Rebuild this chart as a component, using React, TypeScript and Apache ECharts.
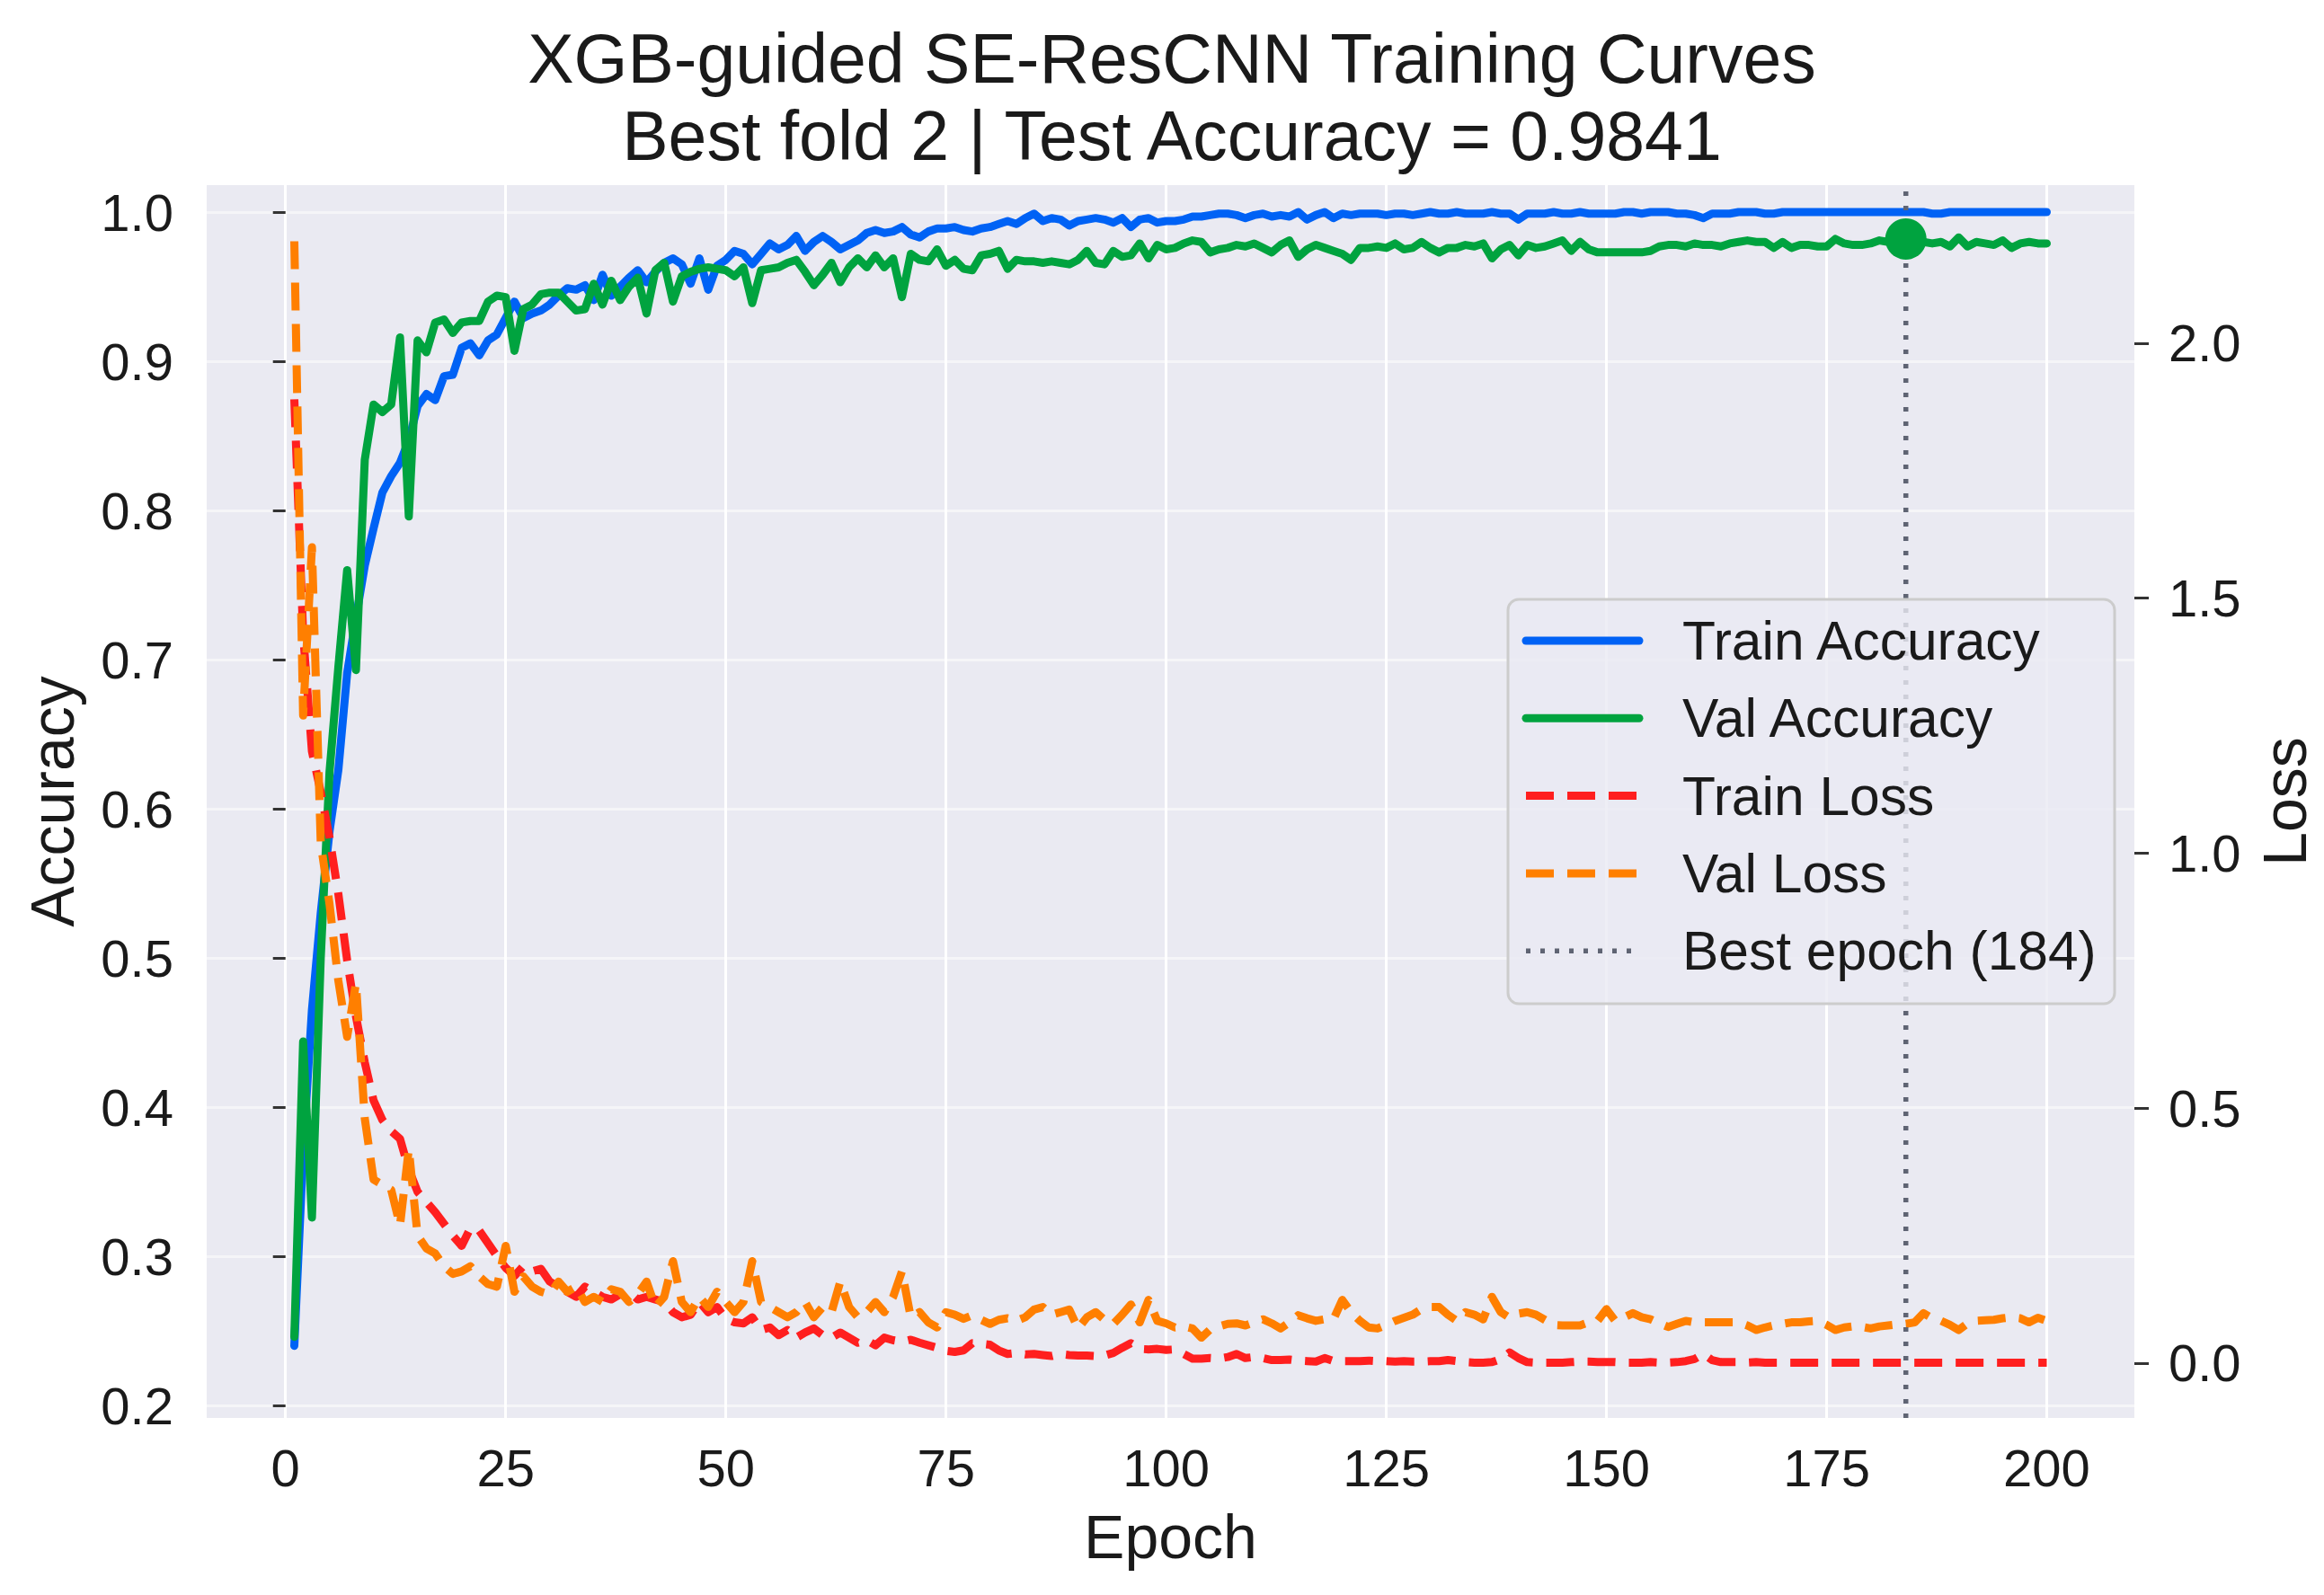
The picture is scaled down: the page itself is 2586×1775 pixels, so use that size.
import React, { useEffect, useRef } from 'react';
import * as echarts from 'echarts';

const FONT = '"Liberation Sans", Arial, Helvetica, sans-serif';

const trainAcc = [
  0.240, 0.370, 0.465, 0.530, 0.585, 0.626, 0.691, 0.728, 0.763, 0.788,
  0.812, 0.823, 0.832, 0.847, 0.870, 0.878, 0.874, 0.890, 0.891, 0.909,
  0.912, 0.904, 0.914, 0.918, 0.929, 0.940, 0.929, 0.932, 0.934, 0.938,
  0.944, 0.949, 0.948, 0.951, 0.941, 0.958, 0.944, 0.950, 0.956, 0.961,
  0.953, 0.960, 0.966, 0.969, 0.965, 0.952, 0.969, 0.948, 0.964, 0.968,
  0.974, 0.972, 0.965, 0.972, 0.979, 0.975, 0.978, 0.984, 0.974, 0.980,
  0.984, 0.980, 0.975, 0.978, 0.981, 0.986, 0.988, 0.986, 0.987, 0.990,
  0.985, 0.983, 0.987, 0.989, 0.989, 0.990, 0.988, 0.987, 0.989, 0.990,
  0.992, 0.994, 0.992, 0.996, 0.999, 0.994, 0.996, 0.995, 0.991, 0.994,
  0.995, 0.996, 0.995, 0.993, 0.996, 0.990, 0.995, 0.996, 0.993, 0.994,
  0.994, 0.995, 0.997, 0.997, 0.998, 0.999, 0.999, 0.998, 0.996, 0.998,
  0.999, 0.997, 0.998, 0.997, 1.000, 0.995, 0.998, 1.000, 0.996, 0.999,
  0.998, 0.999, 0.999, 0.999, 0.998, 0.999, 0.999, 0.998, 0.999, 1.000,
  0.999, 0.999, 1.000, 0.999, 0.999, 0.999, 1.000, 0.999, 0.999, 0.995,
  0.999, 0.999, 0.999, 1.000, 0.999, 0.999, 1.000, 0.999, 0.999, 0.999,
  0.999, 1.000, 1.000, 0.999, 1.000, 1.000, 1.000, 0.999, 0.999, 0.998,
  0.996, 0.999, 0.999, 0.999, 1.000, 1.000, 1.000, 0.999, 0.999, 1.000,
  1.000, 1.000, 1.000, 1.000, 1.000, 1.000, 1.000, 1.000, 1.000, 1.000,
  1.000, 1.000, 1.000, 1.000, 1.000, 1.000, 0.999, 0.999, 1.000, 1.000,
  1.000, 1.000, 1.000, 1.000, 1.000, 1.000, 1.000, 1.000, 1.000, 1.000,
];

const valAcc = [
  0.246, 0.444, 0.326, 0.500, 0.625, 0.695, 0.760, 0.693, 0.834, 0.871,
  0.866, 0.871, 0.916, 0.796, 0.914, 0.906, 0.926, 0.928, 0.919, 0.926,
  0.927, 0.927, 0.940, 0.944, 0.943, 0.907, 0.935, 0.938, 0.945, 0.946,
  0.946, 0.940, 0.934, 0.935, 0.952, 0.938, 0.954, 0.941, 0.950, 0.956,
  0.932, 0.961, 0.966, 0.940, 0.957, 0.960, 0.962, 0.963, 0.962, 0.961,
  0.957, 0.963, 0.939, 0.961, 0.962, 0.963, 0.966, 0.968, 0.960, 0.951,
  0.958, 0.966, 0.953, 0.963, 0.969, 0.963, 0.971, 0.963, 0.969, 0.943,
  0.972, 0.968, 0.967, 0.975, 0.964, 0.968, 0.962, 0.961, 0.971, 0.972,
  0.974, 0.962, 0.968, 0.967, 0.967, 0.966, 0.967, 0.966, 0.965, 0.968,
  0.974, 0.966, 0.965, 0.974, 0.970, 0.971, 0.979, 0.969, 0.978, 0.975,
  0.976, 0.979, 0.981, 0.980, 0.973, 0.975, 0.976, 0.978, 0.977, 0.979,
  0.976, 0.973, 0.978, 0.981, 0.970, 0.975, 0.978, 0.976, 0.974, 0.972,
  0.968, 0.976, 0.976, 0.977, 0.976, 0.979, 0.975, 0.976, 0.980, 0.976,
  0.973, 0.976, 0.976, 0.978, 0.977, 0.979, 0.969, 0.975, 0.978, 0.971,
  0.978, 0.976, 0.977, 0.979, 0.981, 0.974, 0.980, 0.975, 0.973, 0.973,
  0.973, 0.973, 0.973, 0.973, 0.974, 0.977, 0.978, 0.978, 0.977, 0.979,
  0.978, 0.978, 0.977, 0.979, 0.980, 0.981, 0.980, 0.980, 0.976, 0.980,
  0.976, 0.978, 0.978, 0.977, 0.977, 0.982, 0.979, 0.978, 0.978, 0.979,
  0.981, 0.980, 0.981, 0.982, 0.980, 0.980, 0.979, 0.980, 0.977, 0.983,
  0.977, 0.980, 0.979, 0.978, 0.981, 0.976, 0.979, 0.980, 0.979, 0.979,
];

const trainLoss = [
  1.89, 1.43, 1.20, 1.12, 1.03, 0.92, 0.79, 0.68, 0.59, 0.515,
  0.477, 0.455, 0.44, 0.38, 0.336, 0.316, 0.296, 0.273, 0.25, 0.23,
  0.265, 0.26, 0.235, 0.21, 0.187, 0.171, 0.19, 0.18, 0.185, 0.16,
  0.15, 0.14, 0.13, 0.15, 0.14, 0.13, 0.125, 0.135, 0.14, 0.125,
  0.13, 0.125, 0.12, 0.10, 0.09, 0.095, 0.12, 0.10, 0.11, 0.087,
  0.08, 0.078, 0.09, 0.065, 0.07, 0.055, 0.065, 0.05, 0.06, 0.068,
  0.055, 0.05, 0.06, 0.05, 0.04, 0.045, 0.035, 0.05, 0.045, 0.042,
  0.046, 0.04, 0.035, 0.03, 0.024, 0.022, 0.025, 0.039, 0.038, 0.036,
  0.025, 0.018, 0.02, 0.017, 0.018, 0.016, 0.014, 0.018, 0.016, 0.015,
  0.015, 0.014, 0.015, 0.02, 0.03, 0.039, 0.028, 0.027, 0.028, 0.026,
  0.027, 0.018, 0.009, 0.009, 0.010, 0.009, 0.012, 0.018, 0.010, 0.012,
  0.010, 0.006, 0.006, 0.007, 0.005, 0.004, 0.003, 0.010, 0.004, 0.004,
  0.004, 0.004, 0.005, 0.004, 0.004, 0.003, 0.004, 0.003, 0.003, 0.004,
  0.004, 0.006, 0.004, 0.002, 0.001, 0.001, 0.002, 0.008, 0.021, 0.010,
  0.002, 0.001, 0.001, 0.001, 0.001, 0.002, 0.003, 0.003, 0.002, 0.002,
  0.002, 0.001, 0.001, 0.001, 0.002, 0.001, 0.001, 0.002, 0.004, 0.008,
  0.018, 0.006, 0.002, 0.002, 0.002, 0.001, 0.002, 0.001, 0.001, 0.001,
  0.001, 0.001, 0.001, 0.001, 0.001, 0.001, 0.001, 0.001, 0.001, 0.001,
  0.001, 0.001, 0.001, 0.001, 0.001, 0.001, 0.001, 0.001, 0.001, 0.001,
  0.001, 0.001, 0.001, 0.001, 0.001, 0.001, 0.001, 0.001, 0.001, 0.001,
];

const valLoss = [
  2.20, 1.27, 1.60, 1.02, 0.90, 0.75, 0.64, 0.745, 0.48, 0.36,
  0.35, 0.34, 0.27, 0.42, 0.25, 0.225, 0.215, 0.19, 0.175, 0.18,
  0.19, 0.17, 0.155, 0.15, 0.23, 0.14, 0.17, 0.15, 0.14, 0.135,
  0.16, 0.14, 0.15, 0.12, 0.13, 0.12, 0.145, 0.14, 0.12, 0.135,
  0.16, 0.11, 0.13, 0.20, 0.12, 0.10, 0.13, 0.11, 0.14, 0.12,
  0.10, 0.12, 0.20, 0.12, 0.11, 0.10, 0.09, 0.10, 0.12, 0.09,
  0.11, 0.10, 0.16, 0.11, 0.09, 0.10, 0.12, 0.10, 0.13, 0.18,
  0.09, 0.10, 0.08, 0.07, 0.10, 0.095, 0.087, 0.094, 0.085, 0.077,
  0.085, 0.088, 0.083, 0.09, 0.105, 0.11, 0.095, 0.10, 0.105, 0.068,
  0.09, 0.10, 0.085, 0.077, 0.095, 0.115, 0.08, 0.124, 0.083, 0.078,
  0.07, 0.072, 0.068, 0.05, 0.066, 0.072, 0.077, 0.078, 0.074, 0.08,
  0.086, 0.078, 0.068, 0.08, 0.094, 0.088, 0.083, 0.086, 0.086, 0.124,
  0.10, 0.083, 0.07, 0.068, 0.075, 0.083, 0.089, 0.095, 0.106, 0.11,
  0.11, 0.095, 0.083, 0.10, 0.095, 0.086, 0.13, 0.10, 0.089, 0.097,
  0.10, 0.095, 0.085, 0.075, 0.074, 0.074, 0.074, 0.08, 0.083, 0.106,
  0.083, 0.09, 0.098, 0.09, 0.086, 0.078, 0.071, 0.077, 0.083, 0.08,
  0.08, 0.08, 0.08, 0.08, 0.08, 0.074, 0.065, 0.07, 0.074, 0.077,
  0.08, 0.08, 0.082, 0.083, 0.075, 0.065, 0.07, 0.072, 0.071, 0.068,
  0.072, 0.074, 0.076, 0.077, 0.08, 0.098, 0.088, 0.083, 0.075, 0.065,
  0.078, 0.083, 0.084, 0.085, 0.088, 0.09, 0.088, 0.08, 0.089, 0.083,
];

const epochs = trainAcc.map((_, i) => i + 1);
const bestEpoch = 184;

const xTicks = [0, 25, 50, 75, 100, 125, 150, 175, 200];
const accTicks = [0.2, 0.3, 0.4, 0.5, 0.6, 0.7, 0.8, 0.9, 1.0];
const lossTicks = [0, 0.5, 1.0, 1.5, 2.0];

const xRange = [-8.95, 209.95];
const accRange = [0.1916, 1.0181];
const lossRange = [-0.1075, 2.3101];

const titleText = 'XGB-guided SE-ResCNN Training Curves\nBest fold 2 | Test Accuracy = 0.9841';

const COLORS = {
  trainAcc: '#0062f5',
  valAcc: '#00a33f',
  trainLoss: '#ff1f1f',
  valLoss: '#ff7f00',
  best: '#5f6473',
};

const LW = 9;

const legendItems = [
  { label: 'Train Accuracy', color: COLORS.trainAcc, dash: null as number[] | null, width: LW },
  { label: 'Val Accuracy', color: COLORS.valAcc, dash: null, width: LW },
  { label: 'Train Loss', color: COLORS.trainLoss, dash: [31, 15], width: LW },
  { label: 'Val Loss', color: COLORS.valLoss, dash: [31, 15], width: LW },
  { label: `Best epoch (${bestEpoch})`, color: COLORS.best, dash: [5, 11], width: 5.5 },
];

const pairs = (vals: number[]) => epochs.map((e, i) => [e, vals[i]]);

export default function App() {
  const ref = useRef<HTMLDivElement>(null);

  useEffect(() => {
    if (!ref.current) return;
    const chart = echarts.init(ref.current, undefined, { renderer: 'svg' });

    const legendTop = 667;
    const rowGap = 86.3;
    const legendGraphics: any[] = [
      {
        type: 'rect',
        z: 100,
        shape: { x: 1678, y: legendTop, width: 675, height: 450, r: 12 },
        style: { fill: 'rgba(234,234,242,0.8)', stroke: '#cccccc', lineWidth: 3 },
      },
    ];
    legendItems.forEach((item, i) => {
      const y = legendTop + 46 + i * rowGap;
      legendGraphics.push({
        type: 'line',
        z: 101,
        shape: { x1: 1698, y1: y, x2: 1824, y2: y },
        style: {
          stroke: item.color,
          lineWidth: item.width,
          lineDash: item.dash || undefined,
          lineCap: item.dash ? 'butt' : 'round',
        },
      });
      legendGraphics.push({
        type: 'text',
        z: 101,
        style: {
          text: item.label,
          x: 1872,
          y,
          fill: '#1a1a1a',
          fontSize: 60.5,
          fontFamily: FONT,
          verticalAlign: 'middle',
          align: 'left',
        },
      });
    });

    const option: echarts.EChartsOption = {
      animation: false,
      backgroundColor: '#ffffff',
      title: {
        text: titleText,
        left: 1304,
        top: 22,
        padding: 0,
        textAlign: 'center',
        textStyle: {
          fontFamily: FONT,
          fontSize: 77,
          lineHeight: 86,
          fontWeight: 'normal',
          color: '#1a1a1a',
        },
      },
      grid: {
        left: 230,
        right: 204,
        top: 206,
        bottom: 197,
        show: true,
        backgroundColor: '#eaeaf2',
        borderWidth: 0,
      },
      xAxis: {
        type: 'value',
        min: xRange[0],
        max: xRange[1],
        axisLine: { show: false },
        axisTick: { show: false, customValues: xTicks },
        axisLabel: {
          customValues: xTicks,
          fontSize: 58,
          fontFamily: FONT,
          color: '#1a1a1a',
          margin: 21,
          lineHeight: 68,
        },
        splitLine: { show: true, lineStyle: { color: '#ffffff', width: 3 } },
        name: 'Epoch',
        nameLocation: 'middle',
        nameGap: 96,
        nameTextStyle: { fontSize: 68, fontFamily: FONT, color: '#1a1a1a', lineHeight: 72 },
      },
      yAxis: [
        {
          type: 'value',
          position: 'left',
          min: accRange[0],
          max: accRange[1],
          axisLine: { show: false },
          axisTick: {
            show: true,
            customValues: accTicks,
            length: 14,
            lineStyle: { color: '#333333', width: 3 },
          },
          axisLabel: {
            customValues: accTicks,
            formatter: (v: number) => v.toFixed(1),
            fontSize: 58,
            fontFamily: FONT,
            color: '#1a1a1a',
            margin: 37,
          },
          splitLine: { show: true, lineStyle: { color: '#f5f5f8', width: 3 } },
          name: 'Accuracy',
          nameLocation: 'middle',
          nameGap: 136,
          nameTextStyle: { fontSize: 68, fontFamily: FONT, color: '#1a1a1a', lineHeight: 72 },
        },
        {
          type: 'value',
          position: 'right',
          min: lossRange[0],
          max: lossRange[1],
          axisLine: { show: false },
          axisTick: {
            show: true,
            customValues: lossTicks,
            length: 16,
            lineStyle: { color: '#333333', width: 3 },
          },
          axisLabel: {
            customValues: lossTicks,
            formatter: (v: number) => v.toFixed(1),
            fontSize: 58,
            fontFamily: FONT,
            color: '#1a1a1a',
            margin: 38,
          },
          splitLine: { show: false },
          name: 'Loss',
          nameLocation: 'middle',
          nameGap: 131,
          nameTextStyle: { fontSize: 68, fontFamily: FONT, color: '#1a1a1a', lineHeight: 72 },
        },
      ],
      series: [
        {
          name: 'Train Accuracy',
          type: 'line',
          yAxisIndex: 0,
          data: pairs(trainAcc),
          symbol: 'none',
          lineStyle: { color: COLORS.trainAcc, width: LW, join: 'round', cap: 'round' },
          z: 2,
        },
        {
          name: 'Val Accuracy',
          type: 'line',
          yAxisIndex: 0,
          data: pairs(valAcc),
          symbol: 'none',
          lineStyle: { color: COLORS.valAcc, width: LW, join: 'round', cap: 'round' },
          z: 3,
        },
        {
          name: 'Train Loss',
          type: 'line',
          yAxisIndex: 1,
          data: pairs(trainLoss),
          symbol: 'none',
          lineStyle: { color: COLORS.trainLoss, width: LW, type: [31, 15], cap: 'butt', join: 'round' },
          z: 4,
        },
        {
          name: 'Val Loss',
          type: 'line',
          yAxisIndex: 1,
          data: pairs(valLoss),
          symbol: 'none',
          lineStyle: { color: COLORS.valLoss, width: LW, type: [31, 15], cap: 'butt', join: 'round' },
          z: 5,
        },
        {
          name: `Best epoch (${bestEpoch})`,
          type: 'line',
          yAxisIndex: 0,
          data: [
            [bestEpoch, accRange[0]],
            [bestEpoch, accRange[1]],
          ],
          symbol: 'none',
          lineStyle: { color: COLORS.best, width: 5.5, type: [5, 11], cap: 'butt' },
          z: 6,
        },
        {
          name: 'Best Val Accuracy',
          type: 'scatter',
          yAxisIndex: 0,
          data: [[bestEpoch, valAcc[bestEpoch - 1]]],
          symbol: 'circle',
          symbolSize: 46,
          itemStyle: { color: COLORS.valAcc, opacity: 1 },
          z: 7,
        },
      ],
      graphic: legendGraphics,
    };

    chart.setOption(option);
    return () => chart.dispose();
  }, []);

  return (
    <div
      ref={ref}
      style={{ position: 'absolute', left: 0, top: 0, width: 2586, height: 1775 }}
    />
  );
}
